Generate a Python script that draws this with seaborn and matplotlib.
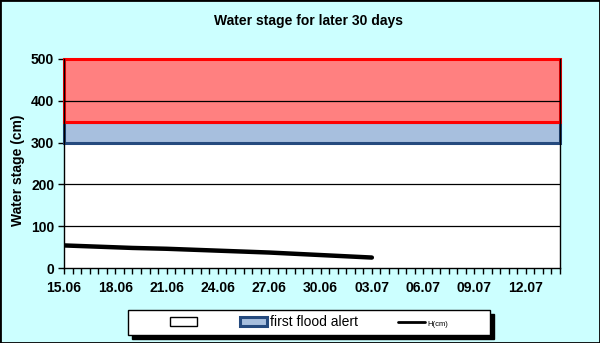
import matplotlib
matplotlib.use("Agg")
import matplotlib.pyplot as plt
import matplotlib.dates as mdates
import matplotlib.patches as mpatches
from matplotlib.lines import Line2D
import seaborn as sns
import pandas as pd

# Observed water stage, daily, 15.06 - 03.07
dates = pd.date_range("2024-06-15", "2024-07-03", freq="D")
stage_cm = [54, 52.5, 51, 49.5, 48, 47, 46, 44.5, 43, 41.5, 40, 38.5, 37, 35, 33, 31, 29, 27, 25]

# Alert bands (cm)
first_alert = (300, 350)
second_alert = (350, 500)

x_start = pd.Timestamp("2024-06-15")
x_end = pd.Timestamp("2024-07-14")
x_ticks = pd.date_range(x_start, "2024-07-12", freq="3D")
y_ticks = [0, 100, 200, 300, 400, 500]

sns.set_style("white")
plt.rcParams["font.family"] = ["Liberation Sans", "DejaVu Sans"]
plt.rcParams["text.color"] = "black"
plt.rcParams["axes.labelcolor"] = "black"
plt.rcParams["xtick.color"] = "black"
plt.rcParams["ytick.color"] = "black"

bg = "#CCFFFF"
fig = plt.figure(figsize=(6, 3.43), dpi=100, facecolor=bg)
ax = fig.add_axes([64 / 600, 1 - 268 / 343, 496 / 600, 209 / 343])
ax.set_facecolor("white")

df = pd.DataFrame({"date": dates, "H(cm)": stage_cm})

ax.axhspan(*second_alert, facecolor="#FF8080", edgecolor="#FF0000", linewidth=2.2, zorder=1, clip_on=False)
ax.axhspan(*first_alert, facecolor="#A7BFDE", edgecolor="#254A7E", linewidth=2.2, zorder=0.9, clip_on=False)
for y in (100, 200, 400):
    ax.axhline(y, color="black", linewidth=0.9, zorder=1.5)

sns.lineplot(data=df, x="date", y="H(cm)", ax=ax, color="black", linewidth=3.2, zorder=3)

ax.set_xlim(x_start, x_end)
ax.set_ylim(0, 500)
ax.set_yticks(y_ticks)
ax.set_xticks(x_ticks)
ax.xaxis.set_major_formatter(mdates.DateFormatter("%d.%m"))
ax.xaxis.set_minor_locator(mdates.HourLocator(byhour=[0, 12]))

ax.spines["top"].set_visible(False)
for s in ("left", "bottom", "right"):
    ax.spines[s].set_color("black")
    ax.spines[s].set_linewidth(1.0)

ax.tick_params(axis="both", which="both", direction="out", length=4, width=1, color="black")
ax.tick_params(axis="x", which="major", pad=5, labelsize=10)
ax.tick_params(axis="y", which="major", pad=3, labelsize=10)
ax.tick_params(bottom=True, left=True, which="both")
for lbl in ax.get_xticklabels() + ax.get_yticklabels():
    lbl.set_fontweight("bold")

ax.set_xlabel("")
ax.set_ylabel("Water stage (cm)", fontsize=10, fontweight="bold")
ax.yaxis.set_label_coords(-39 / 496, 0.469)
fig.text(308 / 600, 1 - 21 / 343, "Water stage for later 30 days", ha="center", va="center",
         fontsize=10, fontweight="bold")

# Legend box with drop shadow
box = (128 / 600, 8 / 343, 362 / 600, 25 / 343)
shadow = mpatches.Rectangle((box[0] + 4 / 600, box[1] - 4 / 343), box[2], box[3],
                            transform=fig.transFigure, facecolor="black", edgecolor="black", zorder=5)
frame = mpatches.Rectangle((box[0], box[1]), box[2], box[3], transform=fig.transFigure,
                           facecolor="white", edgecolor="black", linewidth=1, zorder=6)
fig.patches.extend([shadow, frame])

handles = [
    mpatches.Patch(facecolor="white", edgecolor="black", linewidth=1),
    mpatches.Patch(facecolor="#A7BFDE", edgecolor="#254A7E", linewidth=2.2),
    Line2D([0], [0], color="black", linewidth=2),
]
labels = ["", "first flood alert", "H(cm)"]
leg = fig.legend(handles, labels, ncol=3, loc="center",
                 bbox_to_anchor=(0.515, box[1] + box[3] / 2), frameon=False, fontsize=10,
                 handlelength=1.95, handleheight=0.6, handletextpad=0.2, columnspacing=2.9,
                 borderaxespad=0, borderpad=0)
leg.set_zorder(7)
leg.get_texts()[2].set_fontsize(5.5)

fig.patches.append(mpatches.Rectangle((0, 0), 1, 1, transform=fig.transFigure, fill=False,
                                      edgecolor="black", linewidth=2))

fig.savefig("out.png", dpi=100, facecolor=bg)
